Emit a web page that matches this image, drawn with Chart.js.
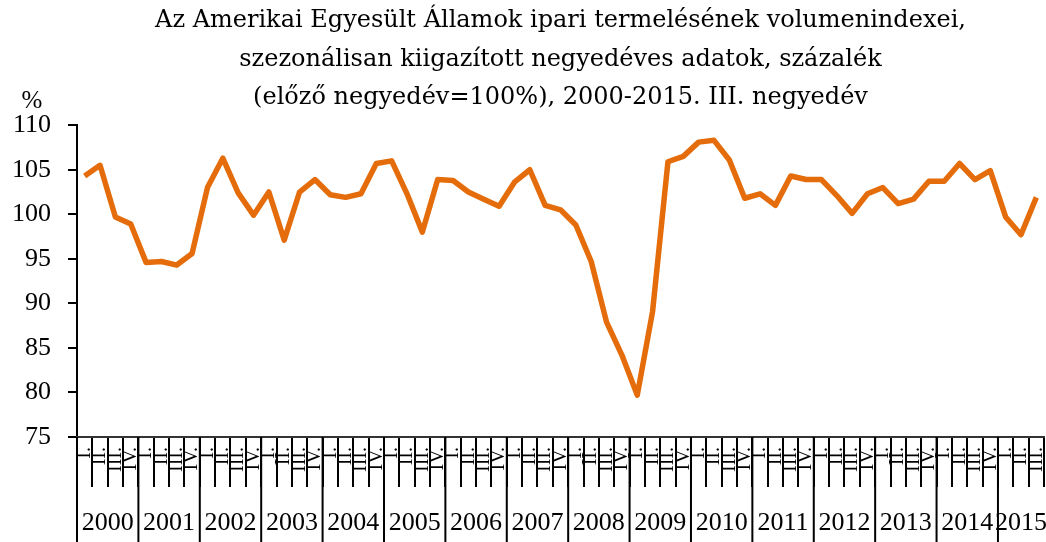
<!DOCTYPE html>
<html>
<head>
<meta charset="utf-8">
<script src="https://cdn.jsdelivr.net/npm/chart.js@4.4.1/dist/chart.umd.min.js"></script>
<style>
  html, body { margin: 0; padding: 0; background: #fff; }
</style>
</head>
<body>
<canvas id="myChart" width="1046" height="542"></canvas>
<script>
// years on the axis and the quarter labels under each year
var years = ["2000","2001","2002","2003","2004","2005","2006","2007","2008","2009","2010","2011","2012","2013","2014","2015"];
var quarters = ["I.","II.","III.","IV."];
var quartersIn2015 = 3;

// volume index, previous quarter = 100%
var indexValues = [
  104.3, 105.5, 99.7, 98.9,
  94.6, 94.7, 94.3, 95.6,
  103.0, 106.3, 102.4, 99.9,
  102.5, 97.1, 102.5, 103.9,
  102.2, 101.9, 102.3, 105.7,
  106.0, 102.3, 98.0, 103.9,
  103.8, 102.5, 101.7, 100.9,
  103.6, 105.0, 101.0, 100.5,
  98.8, 94.7, 87.9, 84.2,
  79.7, 89.1, 105.9, 106.5,
  108.1, 108.3, 106.1, 101.8,
  102.3, 101.0, 104.3, 103.9,
  103.9, 102.1, 100.1, 102.3,
  103.0, 101.2, 101.7, 103.7,
  103.7, 105.7, 103.9, 104.9,
  99.7, 97.7, 101.9
];

var titleLines = [
  "Az Amerikai Egyesült Államok ipari termelésének volumenindexei,",
  "szezonálisan kiigazított negyedéves adatok, százalék",
  "(előző negyedév=100%), 2000-2015. III. negyedév"
];
var yUnit = "%";

var labels = [];
var yearStart = [];
years.forEach(function (y, k) {
  var count = (k === years.length - 1) ? quartersIn2015 : 4;
  yearStart.push(labels.length);
  for (var q = 0; q < count; q++) labels.push(quarters[q]);
});

var fontFamily = "'Liberation Serif', 'DejaVu Serif', serif";
var titleFamily = "'DejaVu Serif', 'Liberation Serif', serif";

// year separators and year names under the quarter labels
var yearAxis = {
  id: "yearAxis",
  afterDraw: function (chart) {
    var ctx = chart.ctx;
    var xs = chart.scales.x;
    var half = (xs.getPixelForValue(1) - xs.getPixelForValue(0)) / 2;
    var edge = function (i) {
      return i < labels.length ? xs.getPixelForValue(i) - half : xs.getPixelForValue(labels.length - 1) + half;
    };
    ctx.save();
    ctx.strokeStyle = "#000";
    ctx.lineWidth = 2;
    ctx.fillStyle = "#000";
    ctx.font = "26px " + fontFamily;
    ctx.textAlign = "center";
    ctx.textBaseline = "middle";
    yearStart.forEach(function (s, k) {
      var x = edge(s);
      ctx.beginPath();
      ctx.moveTo(x, xs.top);
      ctx.lineTo(x, chart.height);
      ctx.stroke();
      var e = (k + 1 < yearStart.length) ? yearStart[k + 1] : labels.length;
      ctx.fillText(years[k], (edge(s) + edge(e)) / 2, 523);
    });
    ctx.font = "25px " + fontFamily;
    ctx.fillText(yUnit, 32, 101);
    ctx.restore();
  }
};

var ctx = document.getElementById("myChart");
var myChart = new Chart(ctx, {
  type: 'line',
  data: {
    labels: labels,
    datasets: [{
      data: indexValues,
      borderColor: "#E46C0A",
      borderWidth: 5.5,
      borderJoinStyle: "round",
      pointRadius: 0,
      tension: 0,
      fill: false
    }]
  },
  options: {
    responsive: false,
    animation: false,
    layout: { padding: { left: 0, right: 2, top: 0, bottom: 0 } },
    plugins: {
      legend: { display: false },
      tooltip: { enabled: false },
      title: {
        display: true,
        fullSize: false,
        text: titleLines,
        color: "#000",
        font: { family: titleFamily, size: 24, weight: "normal", lineHeight: 1.6 },
        padding: { top: 2, bottom: 8 }
      }
    },
    scales: {
      y: {
        min: 75,
        max: 110,
        ticks: { stepSize: 5, color: "#000", padding: 17, font: { family: fontFamily, size: 26 } },
        grid: { drawOnChartArea: false, tickLength: 9, color: "#000", lineWidth: 2 },
        border: { color: "#000", width: 2 },
        afterFit: function (s) { s.width = 77; }
      },
      x: {
        offset: true,
        ticks: {
          autoSkip: false, minRotation: 90, maxRotation: 90,
          color: "#000", padding: -40,
          font: { family: fontFamily, size: 20 }
        },
        grid: { offset: true, drawOnChartArea: false, tickLength: 50, color: "#000", lineWidth: 2 },
        border: { color: "#333", width: 2 },
        afterFit: function (s) { s.height = 105; }
      }
    }
  },
  plugins: [yearAxis]
});
</script>
</body>
</html>
